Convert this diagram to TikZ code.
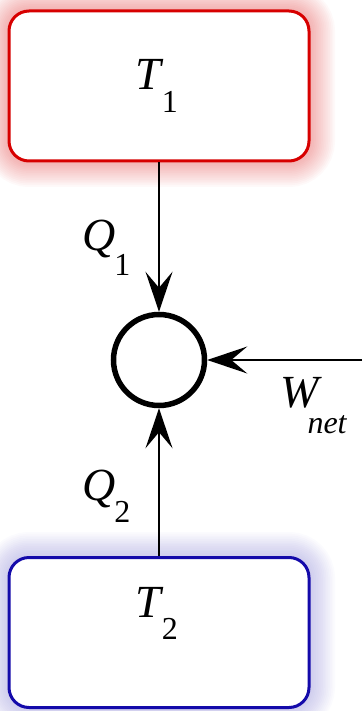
\documentclass[tikz,border=0pt]{standalone}
\usepackage{fontspec}
\setmainfont{Liberation Serif}
\usetikzlibrary{arrows.meta}
\definecolor{hotred}{RGB}{215,0,0}
\definecolor{coldblue}{RGB}{20,10,170}
\tikzset{
  resbox/.style={draw=#1, line width=3pt, rounded corners=20pt, fill=white,
    minimum width=300pt, minimum height=150pt, inner sep=0pt},
  engine/.style={draw, circle, line width=5.5pt, minimum size=91pt, inner sep=0pt},
  flow/.style={line width=1.5pt, -{Stealth[length=40pt, width=27pt, inset=16pt]}},
  lab/.style={anchor=base west, inner sep=0pt, font=\rmfamily\itshape\fontsize{46}{52}\selectfont},
}
\newcommand{\subdown}[2]{\raisebox{-#1}{\fontsize{32}{32}\selectfont #2}}
\begin{document}
\begin{tikzpicture}[x=1pt, y=-1pt]
  \useasboundingbox (0,0) rectangle (362,711);
  % glows
  \foreach \i in {1,...,14} {
    \draw[hotred, opacity=0.022, line width=3pt+3.5*\i pt, rounded corners=20pt]
      (9,11) rectangle (309,161);
    \draw[coldblue, opacity=0.016, line width=3pt+3.5*\i pt, rounded corners=20pt]
      (9,558) rectangle (309,707);
  }
  \node[resbox=hotred] (b1) at (159,86) {};
  \node[resbox=coldblue] (b2) at (159,632.5) {};
  \node[engine] (c) at (159,360) {};
  \coordinate (w) at (362,360);
  \draw[flow] (b1.south) -- (c.north);
  \draw[flow] (b2.north) -- (c.south);
  \draw[flow] (w) -- (c.east);
  \node[lab] (t1) at (135,90) {T\kern1pt\subdown{23pt}{\upshape 1}};
  \node[lab] (t2) at (135,617) {T\kern1pt\subdown{22pt}{\upshape 2}};
  \node[lab] (q1) at (82,250) {Q\kern-1pt\subdown{25pt}{\upshape 1}};
  \node[lab] (q2) at (82,500) {Q\kern-1pt\subdown{22pt}{\upshape 2}};
  \node[lab] (wn) at (280,407) {W\kern-11pt\subdown{26pt}{net}};
\end{tikzpicture}
\end{document}
